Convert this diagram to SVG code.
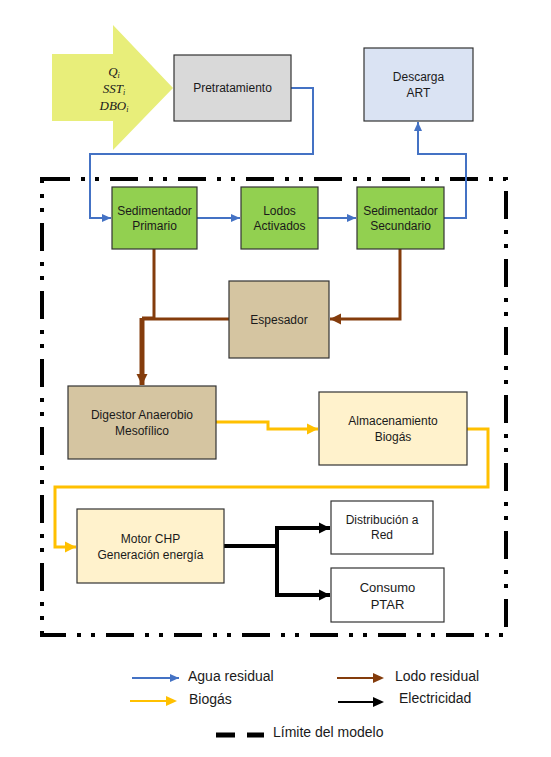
<svg xmlns="http://www.w3.org/2000/svg" width="551" height="757" viewBox="0 0 551 757">
<style>
.box{stroke:#333;stroke-width:1.2}
.t{font-family:"Liberation Sans",Arial,sans-serif;font-size:12px;fill:#1a1a1a;text-anchor:middle;dominant-baseline:central}
.lg{font-family:"Liberation Sans",Arial,sans-serif;font-size:14px;fill:#1a1a1a;dominant-baseline:central}
.m{font-family:"Liberation Serif","Times New Roman",serif;font-style:italic;font-size:13px;fill:#1a1a1a;text-anchor:middle}
.blue{fill:none;stroke:#4472c4;stroke-width:2}
.brown{fill:none;stroke:#843c0c;stroke-width:3}
.yel{fill:none;stroke:#ffc000;stroke-width:3}
.blk{fill:none;stroke:#000;stroke-width:4}
</style>
<defs>
<marker id="aB" markerUnits="userSpaceOnUse" markerWidth="10" markerHeight="10" refX="9" refY="5" orient="auto"><path d="M0,1 L9,5 L0,9 z" fill="#4472c4"/></marker>
<marker id="aR" markerUnits="userSpaceOnUse" markerWidth="12" markerHeight="12" refX="11" refY="6" orient="auto"><path d="M0,0.5 L11,6 L0,11.5 z" fill="#843c0c"/></marker>
<marker id="aY" markerUnits="userSpaceOnUse" markerWidth="12" markerHeight="12" refX="11" refY="6" orient="auto"><path d="M0,0.5 L11,6 L0,11.5 z" fill="#ffc000"/></marker>
<marker id="aK" markerUnits="userSpaceOnUse" markerWidth="12" markerHeight="12" refX="11" refY="6" orient="auto"><path d="M0,0.5 L11,6 L0,11.5 z" fill="#000"/></marker>
</defs>

<!-- model boundary -->
<path d="M42,179 H506 V635 H42 Z" fill="none" stroke="#000" stroke-width="4" stroke-dasharray="28 11 4 10 4 11"/>

<g id="connectors">
<path class="blue" d="M291,88 H313 V154 H90 V218 H111" marker-end="url(#aB)"/>
<path class="blue" d="M197,218 H240" marker-end="url(#aB)"/>
<path class="blue" d="M318,218 H356" marker-end="url(#aB)"/>
<path class="blue" d="M444,218 H466 V154 H418 V122" marker-end="url(#aB)"/>
<path class="brown" d="M154,249 V318 H142"/>
<path class="brown" d="M229,319 H142"/>
<path class="brown" d="M142,318 V385" style="stroke-width:5" marker-end="url(#aR)"/>
<path class="brown" d="M400,249 V319 H330" marker-end="url(#aR)"/>
<path class="yel" d="M216,422 H268 V429 H318" marker-end="url(#aY)"/>
<path class="yel" d="M467,429 H488 V487 H55 V547 H76" marker-end="url(#aY)"/>
<path class="blk" d="M224,546 H277 V528 H330" marker-end="url(#aK)"/>
<path class="blk" d="M277,546 V595 H330" marker-end="url(#aK)"/>
</g>

<g id="entrada">
<path d="M52,54 H113 V25 L173,88 L113,150 V121 H52 Z" fill="#e8ee7a" stroke="none"/>
<text class="m" x="114" y="76">Q<tspan font-size="8" dy="2">i</tspan></text>
<text class="m" x="114" y="93">SST<tspan font-size="8" dy="2">i</tspan></text>
<text class="m" x="114" y="110">DBO<tspan font-size="8" dy="2">i</tspan></text>
</g>

<g id="pretratamiento">
<rect class="box" x="174" y="55" width="117" height="66" fill="#d9d9d9"/>
<text class="t" x="232.5" y="88">Pretratamiento</text>
</g>

<g id="descarga">
<rect class="box" x="364" y="48" width="109" height="73" fill="#dae3f3"/>
<text class="t" x="418.5" y="77">Descarga</text>
<text class="t" x="418.5" y="93">ART</text>
</g>

<g id="sed-primario">
<rect class="box" x="112" y="187" width="85" height="62" fill="#92d050"/>
<text class="t" x="154.5" y="211">Sedimentador</text>
<text class="t" x="154.5" y="226">Primario</text>
</g>

<g id="lodos-activados">
<rect class="box" x="241" y="187" width="77" height="62" fill="#92d050"/>
<text class="t" x="279.5" y="211">Lodos</text>
<text class="t" x="279.5" y="226">Activados</text>
</g>

<g id="sed-secundario">
<rect class="box" x="357" y="187" width="87" height="62" fill="#92d050"/>
<text class="t" x="400.5" y="211">Sedimentador</text>
<text class="t" x="400.5" y="226">Secundario</text>
</g>

<g id="espesador">
<rect class="box" x="229" y="281" width="100" height="77" fill="#d5c5a1"/>
<text class="t" x="279" y="320">Espesador</text>
</g>

<g id="digestor">
<rect class="box" x="68" y="386" width="148" height="73" fill="#d5c5a1"/>
<text class="t" x="142" y="415">Digestor Anaerobio</text>
<text class="t" x="142" y="431">Mesofílico</text>
</g>

<g id="almacenamiento">
<rect class="box" x="319" y="392" width="148" height="73" fill="#fff2cc"/>
<text class="t" x="393" y="421">Almacenamiento</text>
<text class="t" x="393" y="437">Biogás</text>
</g>

<g id="motor-chp">
<rect class="box" x="77" y="509" width="147" height="74" fill="#fff2cc"/>
<text class="t" x="150.5" y="539">Motor CHP</text>
<text class="t" x="150.5" y="555">Generación energía</text>
</g>

<g id="distribucion">
<rect class="box" x="331" y="501" width="102" height="53" fill="#fff"/>
<text class="t" x="382" y="520">Distribución a</text>
<text class="t" x="382" y="535">Red</text>
</g>

<g id="consumo">
<rect class="box" x="331" y="568" width="113" height="54" fill="#fff"/>
<text class="t" x="387.5" y="587" style="font-size:13px">Consumo</text>
<text class="t" x="387.5" y="604" style="font-size:13px">PTAR</text>
</g>

<g id="leyenda">
<path d="M132,678 H179" fill="none" stroke="#4472c4" stroke-width="2" marker-end="url(#aB)"/>
<text class="lg" x="188" y="676">Agua residual</text>
<path d="M337,678 H374" fill="none" stroke="#843c0c" stroke-width="2"/>
<path d="M373,673 L384,678 L373,683 z" fill="#843c0c"/>
<text class="lg" x="395" y="676">Lodo residual</text>
<path d="M130,701 H167" fill="none" stroke="#ffc000" stroke-width="2"/>
<path d="M166,696 L177,701 L166,706 z" fill="#ffc000"/>
<text class="lg" x="189" y="699">Biogás</text>
<path d="M338,702 H374" fill="none" stroke="#000" stroke-width="2"/>
<path d="M373,697 L384,702 L373,707 z" fill="#000"/>
<text class="lg" x="399" y="698">Electricidad</text>
<path d="M216,735 H235 M247,735 H264" stroke="#000" stroke-width="5" fill="none"/>
<text class="lg" x="273" y="732">Límite del modelo</text>
</g>
</svg>
